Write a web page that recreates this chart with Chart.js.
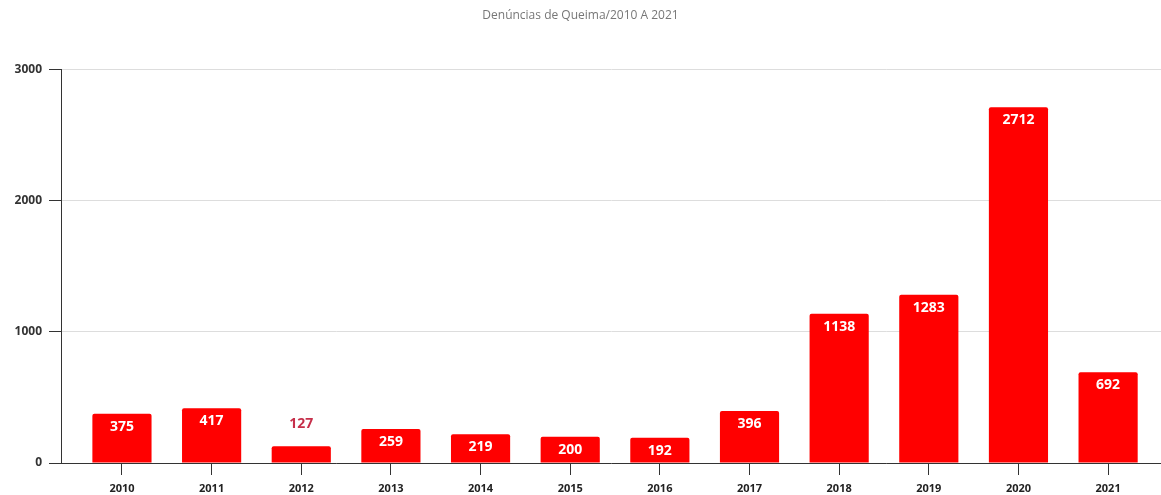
<!DOCTYPE html>
<html>
<head>
<meta charset="utf-8">
<script src="https://cdn.jsdelivr.net/npm/chart.js@4"></script>
<style>
  html, body { margin: 0; padding: 0; background: #fff; }
  #wrap { width: 1161px; height: 495px; position: relative; }
</style>
</head>
<body>
<div id="wrap"><canvas id="chart"></canvas></div>
<script>
// Denúncias de queima por ano
var years = [2010, 2011, 2012, 2013, 2014, 2015, 2016, 2017, 2018, 2019, 2020, 2021];
var denuncias = [375, 417, 127, 259, 219, 200, 192, 396, 1138, 1283, 2712, 692];
var yTicks = [0, 1000, 2000, 3000];

var FONT = "'Open Sans', 'DejaVu Sans', sans-serif";

// value labels: white inside the bar, or above it when the bar is too short
var valueLabels = {
  id: 'valueLabels',
  afterDatasetsDraw: function (chart) {
    var ctx = chart.ctx;
    var meta = chart.getDatasetMeta(0);
    ctx.save();
    ctx.font = 'bold 14px ' + FONT;
    ctx.textAlign = 'center';
    ctx.textBaseline = 'middle';
    meta.data.forEach(function (bar, i) {
      var h = bar.base - bar.y;
      var txt = String(denuncias[i]);
      if (h < 20) {
        ctx.fillStyle = '#c62f4a';
        ctx.fillText(txt, bar.x, bar.y - 22);
      } else {
        ctx.fillStyle = '#ffffff';
        ctx.fillText(txt, bar.x, bar.y + 13);
      }
    });
    ctx.restore();
  }
};

new Chart(document.getElementById('chart'), {
  type: 'bar',
  data: {
    datasets: [{
      label: 'Denúncias',
      data: years.map(function (y, i) { return { x: y, y: denuncias[i] }; }),
      backgroundColor: '#ff0000',
      borderRadius: 2,
      categoryPercentage: 1,
      barPercentage: 0.66
    }]
  },
  options: {
    responsive: true,
    maintainAspectRatio: false,
    animation: false,
    layout: { padding: 0 },
    plugins: {
      legend: { display: false },
      tooltip: { enabled: false },
      title: {
        display: true,
        text: 'Denúncias de Queima/2010 A 2021',
        color: '#777',
        font: { family: FONT, size: 12, weight: 'normal' },
        padding: { top: 8, bottom: 47 }
      }
    },
    scales: {
      x: {
        type: 'linear',
        offset: false,
        min: years[0] - 0.68,
        max: years[years.length - 1] + 0.59,
        afterBuildTicks: function (s) {
          s.ticks = years.map(function (v) { return { value: v }; });
        },
        afterFit: function (s) { s.height = 32; },
        ticks: {
          autoSkip: false,
          maxRotation: 0,
          padding: 7,
          color: '#222',
          font: { family: FONT, size: 11, weight: 'bold' },
          callback: function (v) { return String(v); }
        },
        grid: { offset: false, drawOnChartArea: false, tickLength: 12, tickColor: '#333' },
        border: { color: '#333' }
      },
      y: {
        min: 0,
        max: 3000,
        afterBuildTicks: function (s) {
          s.ticks = yTicks.map(function (v) { return { value: v }; });
        },
        afterFit: function (s) { s.width = 61; },
        ticks: {
          padding: 7,
          color: '#333',
          font: { family: FONT, size: 12, weight: 'bold' },
          callback: function (v) { return String(v); }
        },
        grid: { color: '#dddddd', tickLength: 12, tickColor: '#333' },
        border: { color: '#333' }
      }
    }
  },
  plugins: [valueLabels]
});
</script>
</body>
</html>
